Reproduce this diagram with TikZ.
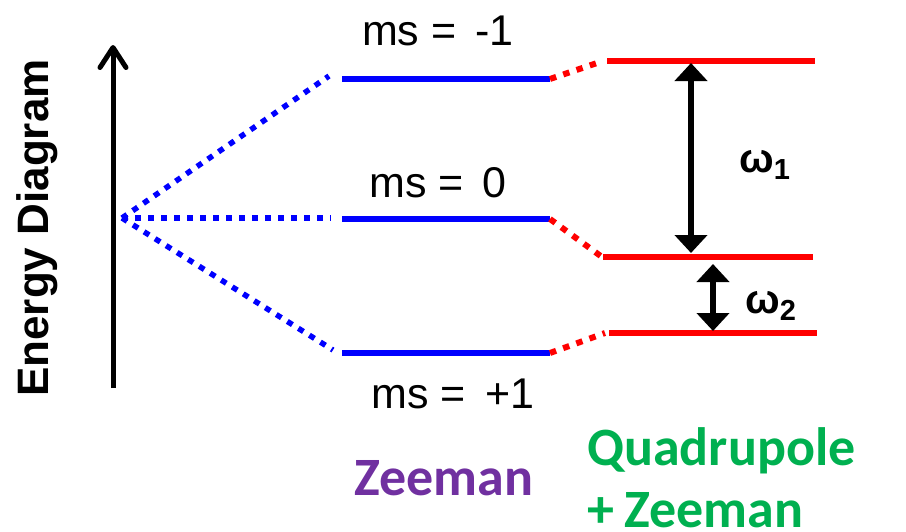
\documentclass[tikz,border=0pt]{standalone}
\usepackage{fontspec}
\setmainfont{Liberation Sans}
\newfontfamily\calib{Carlito}
\usetikzlibrary{arrows.meta}
\definecolor{zpurple}{HTML}{7030A0}
\definecolor{qgreen}{HTML}{00B050}
\tikzset{
  bluelevel/.style={draw=blue,line width=5.5pt},
  redlevel/.style={draw=red,line width=5.5pt},
  bluedots/.style={draw=blue,line width=5.5pt,dash pattern=on 6pt off 7pt},
  reddots/.style={draw=red,line width=6pt,dash pattern=on 6.5pt off 7.5pt},
  msl/.style={inner sep=0pt,anchor=base,font=\fontsize{43}{50}\selectfont},
  omegal/.style={inner sep=0pt,anchor=base west,font=\bfseries\fontsize{41}{48}\selectfont},
  dblarrow/.style={line width=6pt,{Triangle[length=18pt,width=32pt]}-{Triangle[length=18pt,width=32pt]}},
  title/.style={inner sep=0pt,anchor=base west,font=\calib\bfseries\fontsize{54}{63}\selectfont}
}
\newcommand{\omsub}[1]{ω\raisebox{-0.18em}{\fontsize{29}{30}\selectfont #1}}
\begin{document}
\begin{tikzpicture}[x=1pt,y=-1pt]
\useasboundingbox (0,0) rectangle (906,531);
% energy axis
\coordinate (axb) at (113,388);
\coordinate (axt) at (113,45);
\draw[line width=5pt,-{Straight Barb[length=20pt,width=26pt,line join=round,line cap=round]}] (axb) -- (axt);
\node[inner sep=0pt,anchor=base,rotate=90,font=\bfseries\fontsize{44}{50}\selectfont] (etitle) at (48,228) {Energy Diagram};
% origin
\coordinate (O) at (122,218);
% Zeeman levels
\coordinate (zl1) at (342,79);  \coordinate (zr1) at (550,79);
\coordinate (zl0) at (342,219); \coordinate (zr0) at (550,219);
\coordinate (zlp) at (342,353); \coordinate (zrp) at (550,353);
\coordinate (d1) at (329,76);
\coordinate (d0) at (331,218);
\coordinate (dp) at (333,350);
\draw[bluedots] (O) -- (d1);
\draw[bluedots] (O) -- (d0);
\draw[bluedots] (O) -- (dp);
\draw[bluelevel] (zl1) -- (zr1);
\draw[bluelevel] (zl0) -- (zr0);
\draw[bluelevel] (zlp) -- (zrp);
% quadrupole levels
\coordinate (ql1) at (607,61);  \coordinate (qr1) at (815,61);
\coordinate (ql0) at (603,257); \coordinate (qr0) at (813,257);
\coordinate (qlp) at (609,333); \coordinate (qrp) at (817,333);
\draw[redlevel] (ql1) -- (qr1);
\draw[redlevel] (ql0) -- (qr0);
\draw[redlevel] (qlp) -- (qrp);
\coordinate (r1) at (600,62);
\coordinate (r0) at (602,257);
\coordinate (rp) at (605,333);
\draw[reddots] (zr1) -- (r1);
\draw[reddots] (zr0) -- (r0);
\draw[reddots] (zrp) -- (rp);
% transitions
\coordinate (w1t) at (691,63);  \coordinate (w1b) at (691,253);
\coordinate (w2t) at (713,264); \coordinate (w2b) at (713,331);
\draw[dblarrow] (w1t) -- (w1b);
\draw[dblarrow] (w2t) -- (w2b);
\node[omegal] (om1) at (739,172) {\omsub{1}};
\node[omegal] (om2) at (745,313) {\omsub{2}};
% ms labels
\node[msl] (ms1) at (438,45) {ms = \,-1};
\node[msl] (ms0) at (438,197) {ms = \,0};
\node[msl] (msp) at (453,408) {ms = \,+1};
% titles
\node[title,text=zpurple] (zee) at (354,495) {Zeeman};
\node[title,text=qgreen] (quad) at (587,465) {Quadrupole};
\node[title,text=qgreen] (quad2) at (587,527) {+\hspace{-2pt} Zeeman};
\end{tikzpicture}
\end{document}
